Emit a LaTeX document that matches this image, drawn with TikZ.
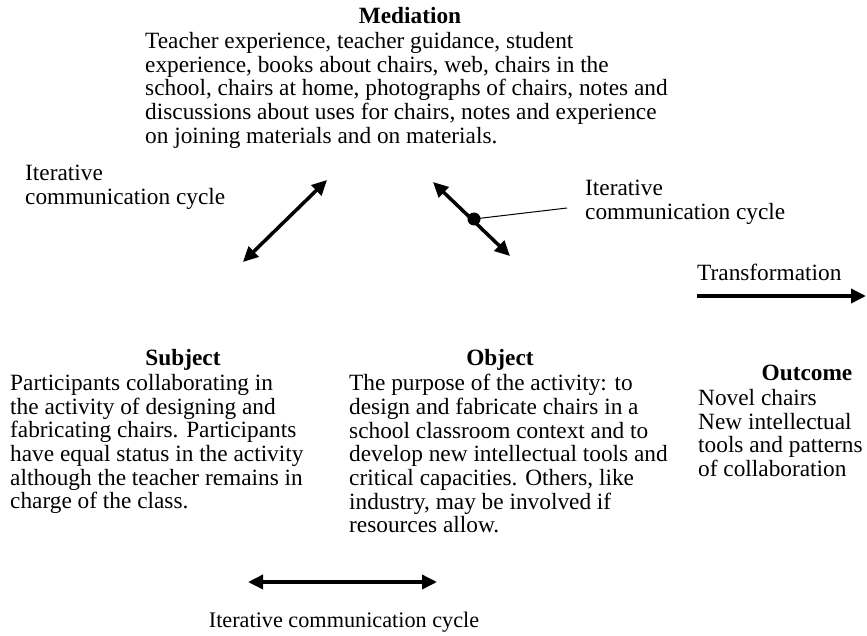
\documentclass[tikz,border=0pt]{standalone}
\usepackage{fontspec}
\setmainfont{Liberation Serif}
\usetikzlibrary{arrows.meta}
\begin{document}
\begin{tikzpicture}[x=1bp,y=1bp,
  txt/.style={inner sep=0pt, align=left, anchor=north west, font=\fontsize{23.4}{23.8}\selectfont},
  head/.style={inner sep=0pt, anchor=base, font=\fontsize{23.4}{23.8}\selectfont\bfseries},
  bigarrow/.style={line width=3.5bp, {Triangle[length=15bp,width=14bp]}-{Triangle[length=15bp,width=14bp]}},
  onearrow/.style={line width=3.5bp, -{Triangle[length=15bp,width=14bp]}}]
\useasboundingbox (0,0) rectangle (867,-636);
% Mediation
\node[head] (medh) at (410,-24) {Mediation};
\node[txt] (medt) at (145,-32) {Teacher experience, teacher guidance, student\\experience, books about chairs, web, chairs in the\\school, chairs at home, photographs of chairs, notes and\\discussions about uses for chairs, notes and experience\\on joining materials and on materials.};
% left cycle
\node[txt] (lc) at (25,-165) {Iterative\\communication cycle};
\coordinate (la) at (243,-262);
\coordinate (lb) at (327,-180);
\draw[bigarrow] (la) -- (lb);
% right cycle
\coordinate (ra) at (433,-182);
\coordinate (rb) at (510,-256);
\draw[bigarrow] (ra) -- (rb);
\node[circle, fill=black, inner sep=0pt, minimum size=13bp] (dot) at (474,-219) {};
\node[txt] (rc) at (585,-180) {Iterative\\communication cycle};
\coordinate (re) at (567,-208);
\draw[line width=1bp] (dot.center) -- (re);
% transformation
\node[txt] (tr) at (697,-264) {Transformation};
\coordinate (ta) at (697,-296);
\coordinate (tb) at (866,-296);
\draw[onearrow] (ta) -- (tb);
% subject
\node[head] (subh) at (183,-365) {Subject};
\node[txt] (subt) at (10,-374) {Participants collaborating in\\the activity of designing and\\fabricating chairs. Participants\\have equal status in the activity\\although the teacher remains in\\charge of the class.};
% object
\node[head] (objh) at (500,-365) {Object};
\node[txt] (objt) at (349,-374) {The purpose of the activity: to\\design and fabricate chairs in a\\school classroom context and to\\develop new intellectual tools and\\critical capacities. Others, like\\industry, may be involved if\\resources allow.};
% outcome
\node[head] (outh) at (807,-380) {Outcome};
\node[txt] (outt) at (698,-389) {Novel chairs\\New intellectual\\tools and patterns\\of collaboration};
% bottom
\coordinate (ba) at (248,-582);
\coordinate (bb) at (437,-582);
\draw[bigarrow] (ba) -- (bb);
\node[txt, anchor=north, font=\fontsize{22.3}{23.8}\selectfont] (bc) at (344,-612) {Iterative communication cycle};
\end{tikzpicture}
\end{document}
